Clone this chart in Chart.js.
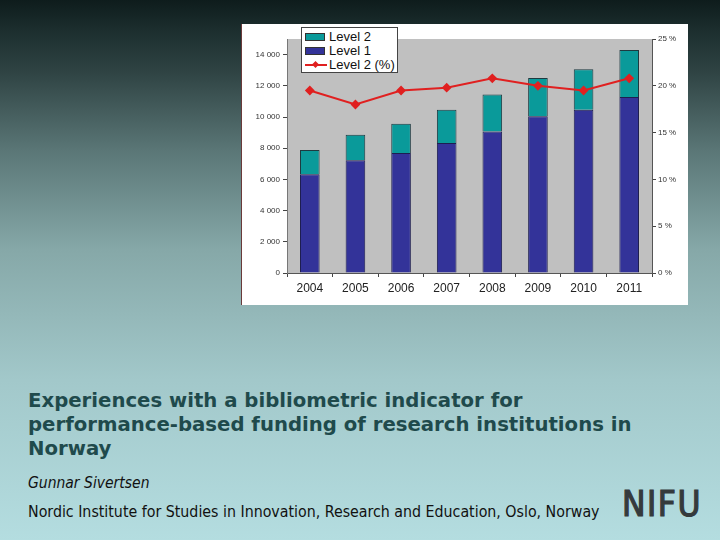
<!DOCTYPE html>
<html>
<head>
<meta charset="utf-8">
<script src="https://cdn.jsdelivr.net/npm/chart.js@4"></script>
<style>
  html, body { margin: 0; padding: 0; }
  body {
    width: 720px; height: 540px; position: relative; overflow: hidden;
    background: linear-gradient(to bottom, #0e1c1c 0px, #1c2e2e 30px, #2e4242 70px, #5a7676 150px,
      #86a8a8 250px, #a2c8ca 380px, #b4dde0 540px);
    font-family: "Liberation Sans", Arial, sans-serif;
  }
  #box {
    position: absolute; left: 242px; top: 24px; width: 446px; height: 281px;
    background: #fff; box-shadow: -1px 0 0 #6a3a3a;
  }
  #legend {
    position: absolute; left: 59px; top: 3px; width: 97px; height: 46px;
    background: #fff; border: 1px solid #444; box-sizing: border-box;
    font: 13px "Liberation Sans", Arial, sans-serif; color: #111;
  }
  .row { position: absolute; left: 3px; height: 15px; line-height: 15px; }
  .sw { position: absolute; left: 0; top: 4px; width: 20px; height: 8px; box-sizing: border-box; border: 1px solid #333; }
  .lbl { position: absolute; left: 24px; top: 0; white-space: nowrap; }
  .ln { position: absolute; left: 0; top: 7px; width: 22px; height: 2px; background: #e02020; }
  .dm { position: absolute; left: 8px; top: 5px; width: 5px; height: 5px; background: #e02020; transform: rotate(45deg); }
  #title {
    position: absolute; left: 28px; top: 389px; width: 690px;
    font: bold 19.7px "DejaVu Sans", Verdana, sans-serif; line-height: 24px; color: #1f4a4c;
  }
  #author { position: absolute; left: 28px; top: 474px; font: italic 15.5px "DejaVu Sans Condensed", sans-serif; color: #111; }
  #inst { position: absolute; left: 28px; top: 502px; font: 15.8px "DejaVu Sans Condensed", sans-serif; color: #111; }
  #logo {
    position: absolute; left: 622px; top: 484px; font: 35px "DejaVu Sans Condensed", sans-serif;
    color: #353a3c; -webkit-text-stroke: 1.2px #353a3c; letter-spacing: 1.5px;
  }
</style>
</head>
<body>
<div id="box">
  <canvas id="chart" width="446" height="281"></canvas>
  <div id="legend">
    <div class="row" style="top:1px"><div class="sw" style="background:#0a9a9a"></div><span class="lbl">Level 2</span></div>
    <div class="row" style="top:15px"><div class="sw" style="background:#333399"></div><span class="lbl">Level 1</span></div>
    <div class="row" style="top:29px"><div class="ln"></div><div class="dm"></div><span class="lbl">Level 2 (%)</span></div>
  </div>
</div>
<div id="title">Experiences with a bibliometric indicator for<br>performance-based funding of research institutions in<br>Norway</div>
<div id="author">Gunnar Sivertsen</div>
<div id="inst">Nordic Institute for Studies in Innovation, Research and Education, Oslo, Norway</div>
<div id="logo">NIFU</div>
<script>
  // values
  const years = ['2004', '2005', '2006', '2007', '2008', '2009', '2010', '2011'];
  const level1 = [6330, 7220, 7690, 8330, 9070, 10050, 10460, 11290];
  const level2 = [1550, 1640, 1880, 2130, 2370, 2450, 2600, 3000];
  const level2Pct = [19.5, 18.0, 19.5, 19.8, 20.8, 20.0, 19.5, 20.8];
  const countTicks = [0, 2000, 4000, 6000, 8000, 10000, 12000, 14000];

  // gray plot area
  const plotBg = {
    id: 'plotBg',
    beforeDraw(chart) {
      const { ctx, chartArea: a } = chart;
      ctx.save();
      ctx.fillStyle = '#c0c0c0';
      ctx.fillRect(a.left, a.top, a.right - a.left, a.bottom - a.top);
      ctx.restore();
    }
  };

  const fmt = v => String(v).replace(/\B(?=(\d{3})+(?!\d))/g, ' ');
  const tickFont = { family: 'Liberation Sans, Arial, sans-serif', size: 8 };

  new Chart(document.getElementById('chart'), {
    type: 'bar',
    data: {
      labels: years,
      datasets: [
        {
          type: 'line', label: 'Level 2 (%)', data: level2Pct, yAxisID: 'y1',
          borderColor: '#e02020', backgroundColor: '#e02020', borderWidth: 2,
          pointStyle: 'rectRot', pointRadius: 3.5, tension: 0, order: 0
        },
        {
          label: 'Level 1', data: level1, backgroundColor: '#333399',
          borderColor: '#1e1e50', borderWidth: 1, stack: 's', order: 1
        },
        {
          label: 'Level 2', data: level2, backgroundColor: '#0a9a9a',
          borderColor: '#1e3a40', borderWidth: 1, stack: 's', order: 1
        }
      ]
    },
    options: {
      responsive: false,
      animation: false,
      layout: { padding: { top: 15, left: 0, right: 0, bottom: 0 } },
      datasets: { bar: { barPercentage: 0.43, categoryPercentage: 1 } },
      plugins: { legend: { display: false }, tooltip: { enabled: false } },
      scales: {
        x: {
          stacked: true,
          grid: { offset: true, drawOnChartArea: false, tickLength: 4, color: '#444' },
          border: { color: '#555' },
          ticks: { color: '#222', font: { family: 'Liberation Sans, Arial, sans-serif', size: 12 }, padding: 4 },
          afterFit(s) { s.height = 32; }
        },
        y: {
          stacked: true, min: 0, max: 15000, position: 'left',
          afterBuildTicks(s) { s.ticks = countTicks.map(v => ({ value: v })); },
          grid: { drawOnChartArea: false, tickLength: 4, color: '#444' },
          border: { color: '#777' },
          ticks: { color: '#333', font: tickFont, padding: 3, callback: v => fmt(v) },
          afterFit(s) { s.width = 45; }
        },
        y1: {
          min: 0, max: 25, position: 'right',
          grid: { drawOnChartArea: false, tickLength: 4, color: '#444' },
          border: { color: '#555' },
          ticks: { stepSize: 5, color: '#333', font: tickFont, padding: 2, callback: v => v + ' %' },
          afterFit(s) { s.width = 36; }
        }
      }
    },
    plugins: [plotBg]
  });
</script>
</body>
</html>
